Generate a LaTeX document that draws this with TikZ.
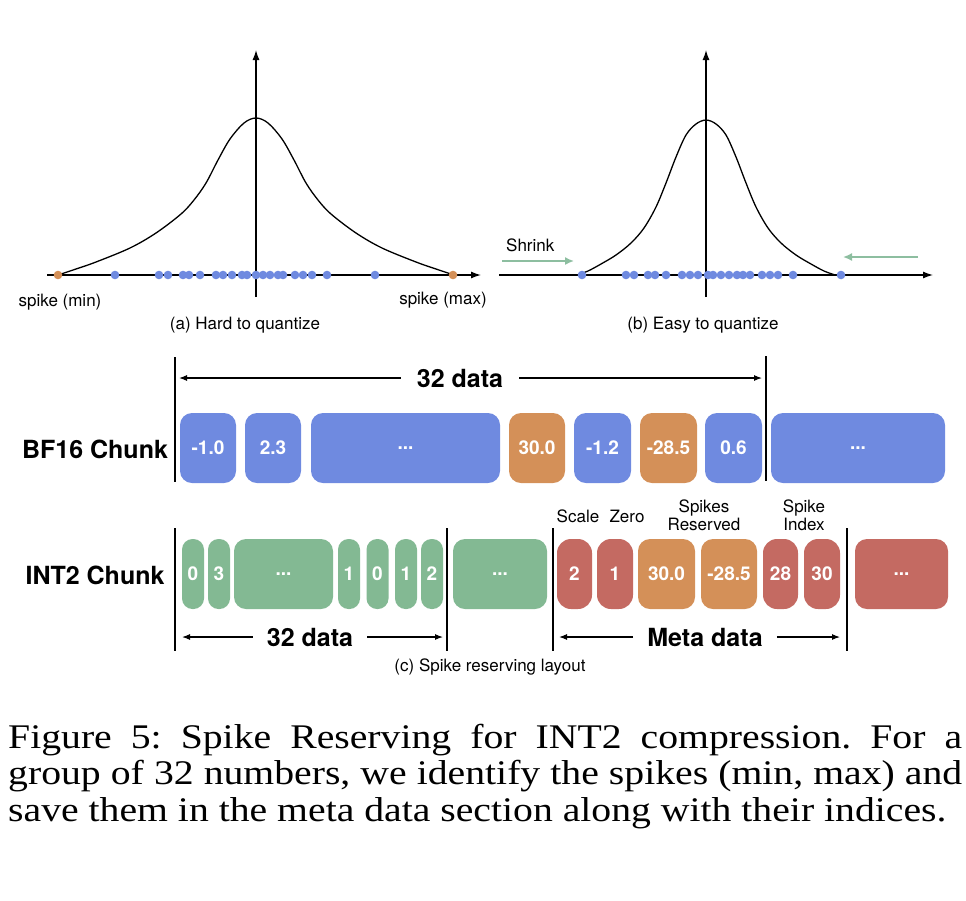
\documentclass[tikz,border=0pt]{standalone}
\usepackage{fontspec}
\setmainfont{TeX Gyre Heros}
\newfontfamily\capfont{Liberation Serif}
\usetikzlibrary{arrows.meta}
\frenchspacing
\definecolor{cblue}{RGB}{111,138,224}
\definecolor{cgreen}{RGB}{131,185,147}
\definecolor{cred}{RGB}{196,106,98}
\definecolor{corange}{RGB}{212,144,88}
\definecolor{carrow}{RGB}{141,190,160}
\tikzset{
  cell/.style={rectangle, rounded corners=12pt, inner sep=0pt, minimum height=70pt,
    text=white, font=\fontsize{19}{22}\selectfont\bfseries},
  narrow/.style={cell, rounded corners=10.5pt, minimum width=22pt},
  pill/.style={cell, rounded corners=14pt},
  small/.style={font=\fontsize{17}{19}\selectfont, inner sep=0pt},
  big/.style={font=\fontsize{25}{28}\selectfont\bfseries, inner sep=0pt},
  axis/.style={line width=1.3pt, -{Latex[length=10pt,width=7pt]}},
  curve/.style={line width=1.3pt},
  dot/.style={circle, inner sep=0pt, minimum size=8.6pt},
  dimarr/.style={line width=1.1pt, -{Latex[length=8pt,width=6pt]}},
  sep/.style={line width=1.3pt},
  shrinkarr/.style={line width=1.6pt, carrow, -{Latex[length=9pt,width=8pt]}},
  capline/.style={anchor=base west, inner sep=0pt, font=\capfont\fontsize{39.7}{44}\selectfont}
}
\begin{document}
\begin{tikzpicture}[x=1pt,y=-1pt]
\useasboundingbox (0,0) rectangle (966,900);

% ---------- (a) Hard to quantize ----------
\coordinate (ax0) at (47,275);
\coordinate (ax1) at (481,275);
\coordinate (ay0) at (256,297);
\coordinate (ay1) at (256,50);
\draw[curve] plot[smooth, tension=0.55] coordinates {(58,275) (76,269) (96,262) (130,248) (156,233) (181,214) (194,200) (206,183) (218,160) (230,139) (244,123) (256,118) (268,123) (282,139) (294,160) (306,183) (318,200) (331,214) (356,233) (382,248) (416,262) (436,269) (454,275)};
\draw[axis] (ax0) -- (ax1);
\draw[axis] (ay0) -- (ay1);
\foreach \x [count=\i] in {115,159,168,183,189,200,216,223,232,242,247,256,263,270,278,283,295,303,312,327,375}
  \node[dot, fill=cblue] (da\i) at (\x,275) {};
\node[dot, fill=corange] (dmin) at (58,275) {};
\node[dot, fill=corange] (dmax) at (453,275) {};
\node[small] (lmin) at (60,302) {spike (min)};
\node[small] (lmax) at (443,300) {spike (max)};
\node[small] (capa) at (245,325) {(a) Hard to quantize};

% ---------- (b) Easy to quantize ----------
\coordinate (bx0) at (499,275);
\coordinate (bx1) at (933,275);
\coordinate (by0) at (706,297);
\coordinate (by1) at (706,50);
\draw[curve] plot[smooth, tension=0.55] coordinates {(577,275) (588,271) (601,264) (616,255) (631,243) (644,228) (656,207) (666,183) (676,157) (686,135) (696,124) (706,120) (716,124) (726,135) (736,157) (746,183) (756,207) (768,228) (781,243) (796,255) (811,264) (824,271) (835,275)};
\draw[axis] (bx0) -- (bx1);
\draw[axis] (by0) -- (by1);
\foreach \x [count=\i] in {582,626,634,648,655,666,682,690,698,708,713,721,729,737,743,750,762,770,778,793,841}
  \node[dot, fill=cblue] (db\i) at (\x,275) {};
\node[small, anchor=west] (shrink) at (506,245) {Shrink};
\coordinate (sl0) at (502,261);
\coordinate (sl1) at (574,261);
\coordinate (sr0) at (918,257);
\coordinate (sr1) at (843,257);
\draw[shrinkarr] (sl0) -- (sl1);
\draw[shrinkarr] (sr0) -- (sr1);
\node[small] (capb) at (703,325) {(b) Easy to quantize};

% ---------- BF16 chunk ----------
\node[big] (bf) at (95,449) {BF16 Chunk};
\coordinate (s1a) at (175,357);
\coordinate (s1b) at (175,482);
\coordinate (s2a) at (766,356);
\coordinate (s2b) at (766,481);
\draw[sep] (s1a) -- (s1b);
\draw[sep] (s2a) -- (s2b);
\node[big] (d32a) at (460,378) {32 data};
\coordinate (t1l) at (179,378);
\coordinate (t1r) at (762,378);
\draw[dimarr] ([xshift=-16pt]d32a.west) -- (t1l);
\draw[dimarr] ([xshift=16pt]d32a.east) -- (t1r);

\node[cell, fill=cblue, minimum width=56pt] (b1) at (208,448) {-1.0};
\node[cell, fill=cblue, minimum width=56pt] (b2) at (273,448) {2.3};
\node[cell, fill=cblue, minimum width=189pt] (b3) at (405.5,448) {...};
\node[cell, fill=corange, minimum width=56pt] (b4) at (537,448) {30.0};
\node[cell, fill=cblue, minimum width=57pt] (b5) at (602.5,448) {-1.2};
\node[cell, fill=corange, minimum width=57pt] (b6) at (668.5,448) {-28.5};
\node[cell, fill=cblue, minimum width=57pt] (b7) at (733.5,448) {0.6};
\node[cell, fill=cblue, minimum width=174pt] (b8) at (858,448) {...};

% ---------- INT2 chunk ----------
\node[big] (it) at (95,575) {INT2 Chunk};
\coordinate (s3a) at (175,528);
\coordinate (s3b) at (175,651);
\coordinate (s4a) at (447,528);
\coordinate (s4b) at (447,651);
\coordinate (s5a) at (553,528);
\coordinate (s5b) at (553,651);
\coordinate (s6a) at (847,528);
\coordinate (s6b) at (847,651);
\draw[sep] (s3a) -- (s3b);
\draw[sep] (s4a) -- (s4b);
\draw[sep] (s5a) -- (s5b);
\draw[sep] (s6a) -- (s6b);

\node[narrow, fill=cgreen] (g1) at (193,574) {0};
\node[narrow, fill=cgreen] (g2) at (219,574) {3};
\node[cell, fill=cgreen, minimum width=99pt] (g3) at (283.5,574) {...};
\node[narrow, fill=cgreen] (g4) at (349,574) {1};
\node[narrow, fill=cgreen] (g5) at (377.5,574) {0};
\node[narrow, fill=cgreen] (g6) at (406,574) {1};
\node[narrow, fill=cgreen] (g7) at (432,574) {2};
\node[cell, fill=cgreen, minimum width=94pt] (g8) at (500,574) {...};

\node[pill, fill=cred, minimum width=35pt] (r1) at (574.5,574) {2};
\node[pill, fill=cred, minimum width=36pt] (r2) at (615,574) {1};
\node[cell, fill=corange, minimum width=57pt] (o1) at (666.5,574) {30.0};
\node[cell, fill=corange, minimum width=56pt] (o2) at (729,574) {-28.5};
\node[pill, fill=cred, minimum width=35pt] (r3) at (780.5,574) {28};
\node[pill, fill=cred, minimum width=36pt] (r4) at (822,574) {30};
\node[cell, fill=cred, minimum width=93pt] (r5) at (901.5,574) {...};

\node[small] (lscale) at (578,516) {Scale};
\node[small] (lzero) at (627,516) {Zero};
\node[small, align=center, font=\fontsize{17}{18}\selectfont] (lspk) at (704,515) {Spikes\\Reserved};
\node[small, align=center, font=\fontsize{17}{18}\selectfont] (lidx) at (804,515) {Spike\\Index};

\node[big] (d32b) at (310,637) {32 data};
\coordinate (t2l) at (182,637);
\coordinate (t2r) at (443,637);
\draw[dimarr] ([xshift=-14pt]d32b.west) -- (t2l);
\draw[dimarr] ([xshift=14pt]d32b.east) -- (t2r);
\node[big] (meta) at (705,637) {Meta data};
\coordinate (t3l) at (559,637);
\coordinate (t3r) at (840,637);
\draw[dimarr] ([xshift=-14pt]meta.west) -- (t3l);
\draw[dimarr] ([xshift=14pt]meta.east) -- (t3r);
\node[small] (capc) at (490,667) {(c) Spike reserving layout};

% ---------- caption ----------
\node[capline] (cap1) at (8,748) {\scalebox{1}[0.87]{\makebox[954pt][s]{Figure 5: Spike Reserving for INT2 compression. For a}}};
\node[capline] (cap2) at (8,784.5) {\scalebox{1}[0.87]{\makebox[954pt][s]{group of 32 numbers, we identify the spikes (min, max) and}}};
\node[capline] (cap3) at (8,821) {\scalebox{1}[0.87]{save them in the meta data section along with their indices.}};
\end{tikzpicture}
\end{document}
